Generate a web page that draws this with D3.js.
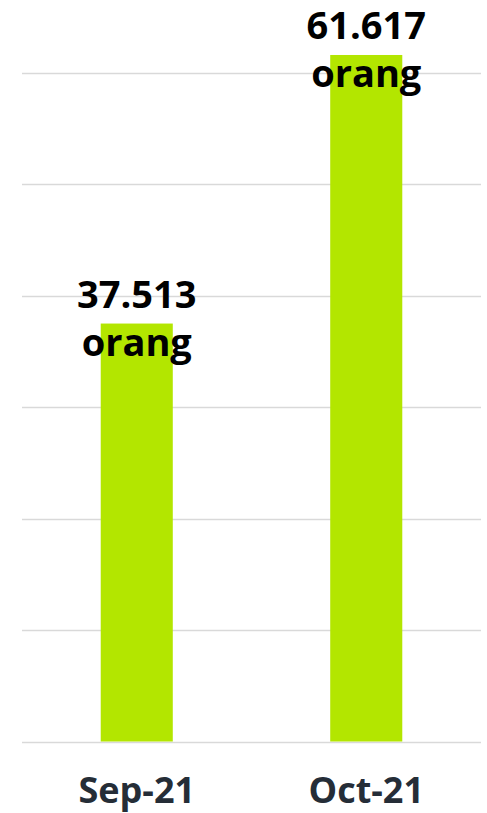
<!DOCTYPE html>
<html>
<head>
<meta charset="utf-8">
<script src="https://cdn.jsdelivr.net/npm/d3@7"></script>
<style>
  body { margin: 0; background: #fff; }
  text { font-family: "Open Sans", sans-serif; font-weight: 700; }
</style>
</head>
<body>
<div id="chart"></div>
<script>
var months = ["Sep-21", "Oct-21"];
var values = [37513, 61617];
var valueLabels = ["37.513", "61.617"];
var unitLabel = "orang";
var gridTicks = [0, 10000, 20000, 30000, 40000, 50000, 60000];

var width = 487, height = 813;
var margin = {top: 73, right: 6, bottom: 71, left: 22};

var svg = d3.select("#chart").append("svg")
    .attr("width", width)
    .attr("height", height);

var xScale = d3.scaleBand().domain(months)
    .range([margin.left, width - margin.right])
    .paddingInner(0.686).paddingOuter(0.343);
var yScale = d3.scaleLinear().domain([0, 60000])
    .range([height - margin.bottom - 0.5, margin.top]);

// gridlines
svg.append("g")
   .attr("class", "grid")
   .selectAll("line")
   .data(gridTicks).enter()
   .append("line")
   .attr("x1", margin.left)
   .attr("x2", width - margin.right)
   .attr("y1", function(d) { return Math.round(yScale(d)) + 0.5; })
   .attr("y2", function(d) { return Math.round(yScale(d)) + 0.5; })
   .attr("stroke", "#d9d9d9")
   .attr("stroke-width", 1.5);

// bars
svg.append("g")
   .attr("class", "bars")
   .selectAll("rect")
   .data(values).enter()
   .append("rect")
   .attr("x", function(d, i) { return xScale(months[i]); })
   .attr("width", xScale.bandwidth())
   .attr("y", function(d) { return yScale(d); })
   .attr("height", function(d) { return yScale(0) - yScale(d); })
   .attr("fill", "#b3e600");

// value labels
var labels = svg.append("g")
   .attr("class", "labels")
   .selectAll("text")
   .data(values).enter()
   .append("text")
   .attr("text-anchor", "middle")
   .attr("font-size", 38)
   .attr("fill", "#000");

labels.append("tspan")
   .attr("x", function(d, i) { return xScale(months[i]) + xScale.bandwidth() / 2; })
   .attr("y", function(d) { return yScale(d) - 16; })
   .text(function(d, i) { return valueLabels[i]; });

labels.append("tspan")
   .attr("x", function(d, i) { return xScale(months[i]) + xScale.bandwidth() / 2; })
   .attr("y", function(d) { return yScale(d) + 32; })
   .text(unitLabel);

// x axis
var xAxis = d3.axisBottom(xScale).tickSize(0).tickPadding(36);
var xx = svg.append("g")
   .attr("class", "xaxis")
   .attr("transform", "translate(0," + yScale(0) + ")")
   .call(xAxis);
xx.select(".domain").remove();
xx.selectAll("text")
  .attr("font-size", 36)
  .attr("fill", "#252d37")
  .style("font-family", "'Open Sans', sans-serif")
  .style("font-weight", 700);
</script>
</body>
</html>
